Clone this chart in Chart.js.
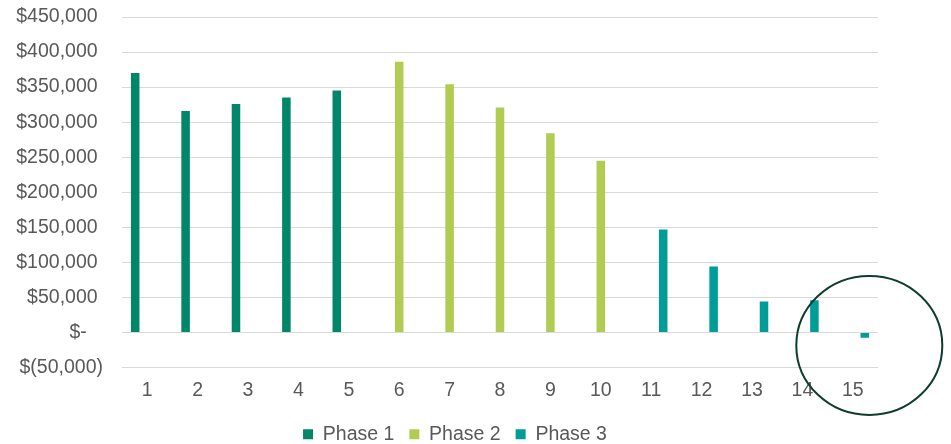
<!DOCTYPE html>
<html>
<head>
<meta charset="utf-8">
<script src="https://cdn.jsdelivr.net/npm/chart.js@4/dist/chart.umd.min.js"></script>
<style>
  html, body { margin: 0; padding: 0; background: #ffffff; }
  #wrap { width: 951px; height: 444px; position: relative; }
</style>
</head>
<body>
<div id="wrap"><canvas id="chart" width="951" height="444"></canvas></div>
<script>
// Periods along the x axis
const periods = ['1','2','3','4','5','6','7','8','9','10','11','12','13','14','15'];

// Net value per period, split by phase (null where the phase is not active)
const phase1 = [370000, 316000, 326000, 335000, 345000, null, null, null, null, null, null, null, null, null, null];
const phase2 = [null, null, null, null, null, 386000, 354000, 321000, 284000, 245000, null, null, null, null, null];
const phase3 = [null, null, null, null, null, null, null, null, null, null, 147000, 94000, 44000, 46000, -7600];

const seriesNames = ['Phase 1', 'Phase 2', 'Phase 3'];
const seriesColors = ['#00876A', '#B1CB53', '#009D98'];

// Axis range
const yMin = -50000, yMax = 450000, yStep = 50000;

const FONT = { family: 'Liberation Sans, Arial, sans-serif', size: 19.5 };

// Accounting-style currency labels
function money(v) {
  if (v === 0) return '$-\u2007 ';
  const s = Math.abs(v).toLocaleString('en-US');
  return v < 0 ? '$(' + s + ')' : '$' + s + ' ';
}

// Centre the legend under the plot area rather than the whole canvas
const legendShiftPlugin = {
  id: 'legendShift',
  afterLayout(chart) {
    if (chart.legend) chart.legend.left += 32;
  }
};

// Ellipse drawn around the final period to call it out
const calloutPlugin = {
  id: 'callout',
  afterDatasetsDraw(chart) {
    const { ctx, scales } = chart;
    const cx = scales.x.getPixelForValue(14) + 16.5;
    const cy = scales.y.getPixelForValue(0) + 13;
    ctx.save();
    ctx.beginPath();
    ctx.ellipse(cx, cy, 73, 69.5, 0, 0, Math.PI * 2);
    ctx.lineWidth = 2;
    ctx.strokeStyle = '#0E3D2D';
    ctx.stroke();
    ctx.restore();
  }
};

const datasets = [phase1, phase2, phase3].map((d, i) => ({
  label: seriesNames[i],
  data: d,
  backgroundColor: seriesColors[i],
  borderWidth: 0,
  categoryPercentage: 0.715,
  barPercentage: 0.71
}));

new Chart(document.getElementById('chart'), {
  type: 'bar',
  data: { labels: periods, datasets },
  options: {
    responsive: false,
    animation: false,
    layout: { padding: { left: 0, right: 73, top: 17, bottom: -10 } },
    plugins: {
      tooltip: { enabled: false },
      legend: {
        position: 'bottom',
        labels: {
          color: '#595959',
          font: FONT,
          boxWidth: 10,
          boxHeight: 10,
          padding: 15
        }
      }
    },
    scales: {
      x: {
        grid: { display: false, drawTicks: false },
        border: { display: false },
        ticks: {
          color: '#595959',
          font: FONT,
          padding: 11,
          maxRotation: 0
        },
        afterFit(scale) { scale.height = 42; }
      },
      y: {
        min: yMin,
        max: yMax,
        grid: { color: '#D9D9D9', lineWidth: 1, drawTicks: false },
        border: { display: false },
        ticks: {
          stepSize: yStep,
          color: '#595959',
          font: FONT,
          padding: 19,
          callback: (v) => money(v)
        },
        afterFit(scale) {
          scale.width = 122;
          scale.paddingTop = 0;
          scale.paddingBottom = 0;
        }
      }
    }
  },
  plugins: [legendShiftPlugin, calloutPlugin]
});
</script>
</body>
</html>
